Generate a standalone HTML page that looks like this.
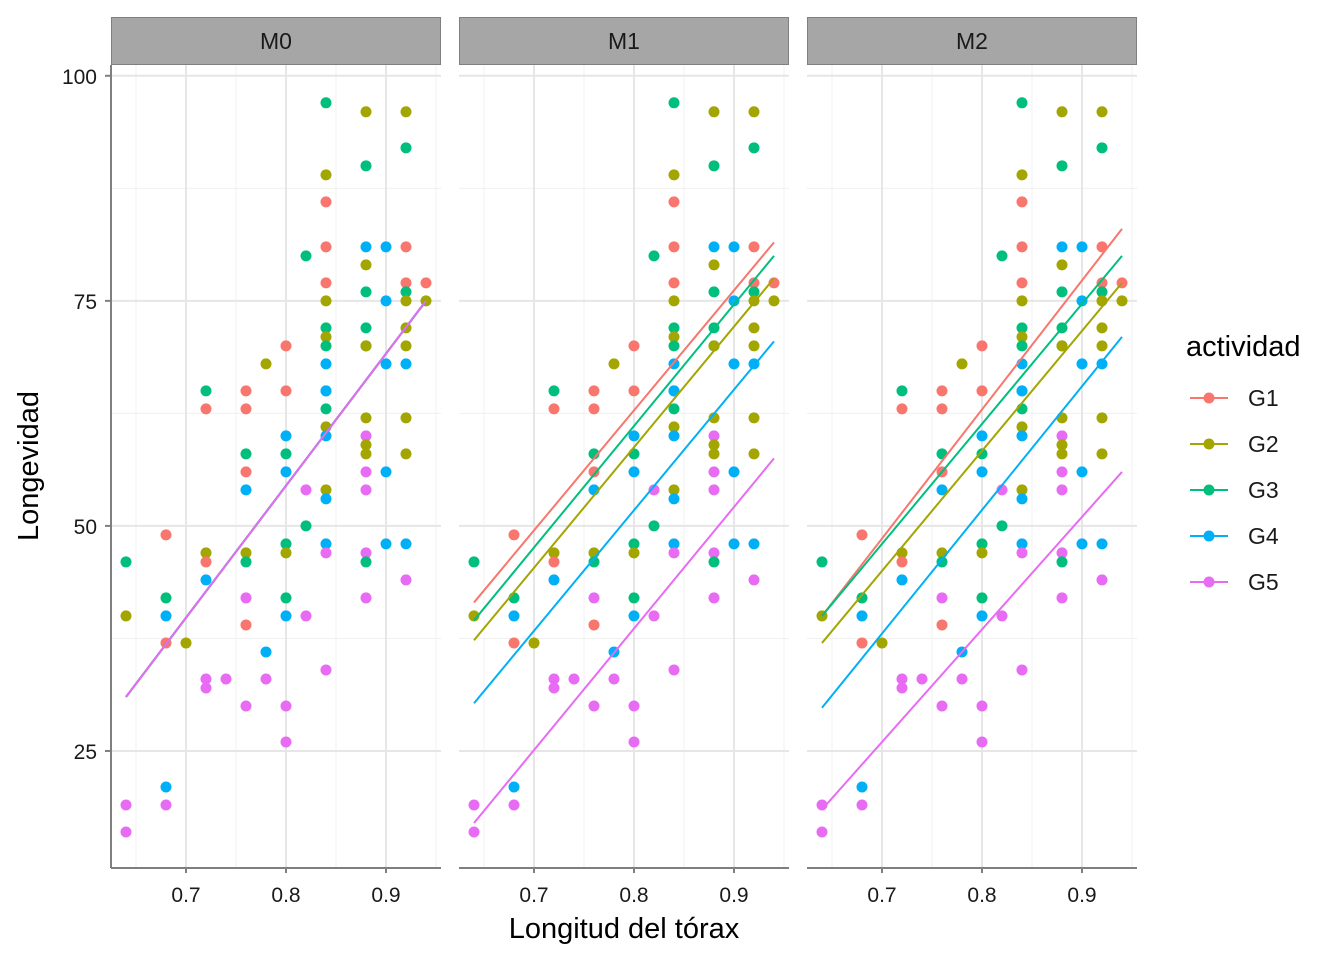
<!DOCTYPE html>
<html><head><meta charset="utf-8"><style>
body{margin:0;background:#fff;}
svg{display:block;font-family:"Liberation Sans",sans-serif;}
</style></head><body>
<svg id="chart" width="1344" height="960"></svg>
<script>
const groups=["G1","G2","G3","G4","G5"];
const colors=["#F8766D","#A3A500","#00BF7D","#00B0F6","#E76BF3"];
const panels=["M0","M1","M2"];
const xTicks=[0.7,0.8,0.9];
const yTicks=[25,50,75,100];
const ptX=[0.64,0.64,0.64,0.64,0.68,0.68,0.68,0.68,0.68,0.68,0.70,0.72,0.72,0.72,0.72,0.72,0.72,0.72,0.74,
0.76,0.76,0.76,0.76,0.76,0.76,0.76,0.76,0.76,0.76,0.78,0.78,0.78,
0.80,0.80,0.80,0.80,0.80,0.80,0.80,0.80,0.80,0.80,0.80,0.82,0.82,0.82,0.82,
0.84,0.84,0.84,0.84,0.84,0.84,0.84,0.84,0.84,0.84,0.84,0.84,0.84,0.84,0.84,0.84,0.84,0.84,0.84,0.84,
0.88,0.88,0.88,0.88,0.88,0.88,0.88,0.88,0.88,0.88,0.88,0.88,0.88,0.88,0.88,0.88,0.88,
0.90,0.90,0.90,0.90,0.90,
0.92,0.92,0.92,0.92,0.92,0.92,0.92,0.92,0.92,0.92,0.92,0.92,0.92,0.94,0.94];
const ptY=[46,40,19,16,49,42,40,37,21,19,37,65,63,47,46,44,33,32,33,
65,63,58,56,54,47,46,42,39,30,68,36,33,
70,65,60,58,56,48,47,42,40,30,26,80,54,50,40,
97,89,86,81,77,75,72,71,70,68,65,63,61,60,54,53,48,47,34,65,
96,90,81,79,76,72,70,70,62,60,59,58,56,54,47,46,42,
81,75,68,56,48,
96,92,81,77,76,75,72,70,68,62,58,48,44,77,75];
const ptG=[2,1,4,4,0,2,3,0,3,4,1,2,0,1,0,3,4,4,4,
0,0,2,0,3,1,2,4,0,4,1,3,4,
0,0,3,2,3,2,1,2,3,4,4,2,4,2,4,
2,1,0,0,0,1,2,1,2,3,3,2,1,3,1,3,3,4,4,3,
1,2,3,1,2,2,2,1,1,4,1,1,4,4,4,2,4,
3,3,3,3,3,
1,2,0,0,2,1,1,1,3,1,1,3,4,0,1];
const m0Start=[31,31,31,31,31], m0End=[75,75,75,75,75];
const m1Start=[41.5,37.3,39.5,30.3,17], m1End=[81.5,77.5,80,70.5,57.5];
const m2Start=[40,37,40,29.8,18.5], m2End=[83,77,80,71,56];
const lineStarts=[m0Start,m1Start,m2Start], lineEnds=[m0End,m1End,m2End];
const lineX0=0.64, lineX1=0.94;

(function(){
const svg=document.getElementById('chart');
const NS="http://www.w3.org/2000/svg";
function mk(t,a,p){const e=document.createElementNS(NS,t);for(const k in a)e.setAttribute(k,a[k]);(p||svg).appendChild(e);return e;}
const panelLeft=[111,459,807], pw=330, plotTop=65, plotBottom=868;
const xmin=0.625,xmax=0.955,ymin=12.0,ymax=101.2;
function sx(p,v){return panelLeft[p]+(v-xmin)/(xmax-xmin)*pw;}
function sy(v){return plotBottom-(v-ymin)/(ymax-ymin)*(plotBottom-plotTop);}

panels.forEach((name,p)=>{
  const g=mk('g',{});
  
  
  [0.65,0.75,0.85,0.95].forEach(v=>mk('line',{x1:sx(p,v),x2:sx(p,v),y1:plotTop,y2:plotBottom,stroke:'#f0f0f0','stroke-width':1},g));
  [37.5,62.5,87.5].forEach(v=>mk('line',{x1:panelLeft[p],x2:panelLeft[p]+pw,y1:sy(v),y2:sy(v),stroke:'#f0f0f0','stroke-width':1},g));
  xTicks.forEach(v=>mk('line',{x1:sx(p,v),x2:sx(p,v),y1:plotTop,y2:plotBottom,stroke:'#e6e6e6','stroke-width':2},g));
  yTicks.forEach(v=>mk('line',{x1:panelLeft[p],x2:panelLeft[p]+pw,y1:sy(v),y2:sy(v),stroke:'#e6e6e6','stroke-width':2},g));
  const strip=mk('rect',{x:panelLeft[p]+0.5,y:17.5,width:pw-1,height:47,fill:'#a6a6a6',stroke:'#7f7f7f','stroke-width':1},g);
  
  
  const st=mk('text',{x:panelLeft[p]+pw/2,y:49,'text-anchor':'middle','font-size':23,fill:'#1a1a1a'},g);st.textContent=name;
  
  
  mk('line',{x1:panelLeft[p],x2:panelLeft[p]+pw,y1:plotBottom,y2:plotBottom,stroke:'#7f7f7f','stroke-width':2},g);
  xTicks.forEach(v=>{
    mk('line',{x1:sx(p,v),x2:sx(p,v),y1:plotBottom,y2:plotBottom+5,stroke:'#7f7f7f','stroke-width':2},g);
    const t=mk('text',{x:sx(p,v),y:902,'text-anchor':'middle','font-size':21,fill:'#1a1a1a'},g);t.textContent=v.toFixed(1);
    
    
  });
  ptX.forEach((x,i)=>{
    const c=mk('circle',{cx:sx(p,x),cy:sy(ptY[i]),r:5.5,fill:colors[ptG[i]]},g);
    
    
  });
  groups.forEach((gr,k)=>{
    const l=mk('line',{x1:sx(p,lineX0),y1:sy(lineStarts[p][k]),x2:sx(p,lineX1),y2:sy(lineEnds[p][k]),stroke:colors[k],'stroke-width':2},g);
    
    
  });
});
mk('line',{x1:111,x2:111,y1:plotTop,y2:plotBottom,stroke:'#7f7f7f','stroke-width':2});
yTicks.forEach(v=>{
  mk('line',{x1:105,x2:111,y1:sy(v),y2:sy(v),stroke:'#7f7f7f','stroke-width':2});
  const t=mk('text',{x:97,y:sy(v)+8,'text-anchor':'end','font-size':21,fill:'#1a1a1a'});t.textContent=v;
  
  
});
const xt=mk('text',{x:624,y:938,'text-anchor':'middle','font-size':29,fill:'#000'});xt.textContent='Longitud del tórax';


const yt=mk('text',{x:0,y:0,'text-anchor':'middle','font-size':29,fill:'#000',transform:'translate(38,466) rotate(-90)'});yt.textContent='Longevidad';


const lt=mk('text',{x:1186,y:356,'font-size':29,fill:'#000'});lt.textContent='actividad';


groups.forEach((gr,k)=>{
  const y=398+46*k;
  const g=mk('g',{});
  
  
  mk('line',{x1:1190,x2:1228,y1:y,y2:y,stroke:colors[k],'stroke-width':2},g);
  mk('circle',{cx:1209,cy:y,r:5.5,fill:colors[k]},g);
  const t=mk('text',{x:1248,y:y+8,'font-size':23,fill:'#1a1a1a'},g);t.textContent=gr;
});
})();
</script>
</body></html>
